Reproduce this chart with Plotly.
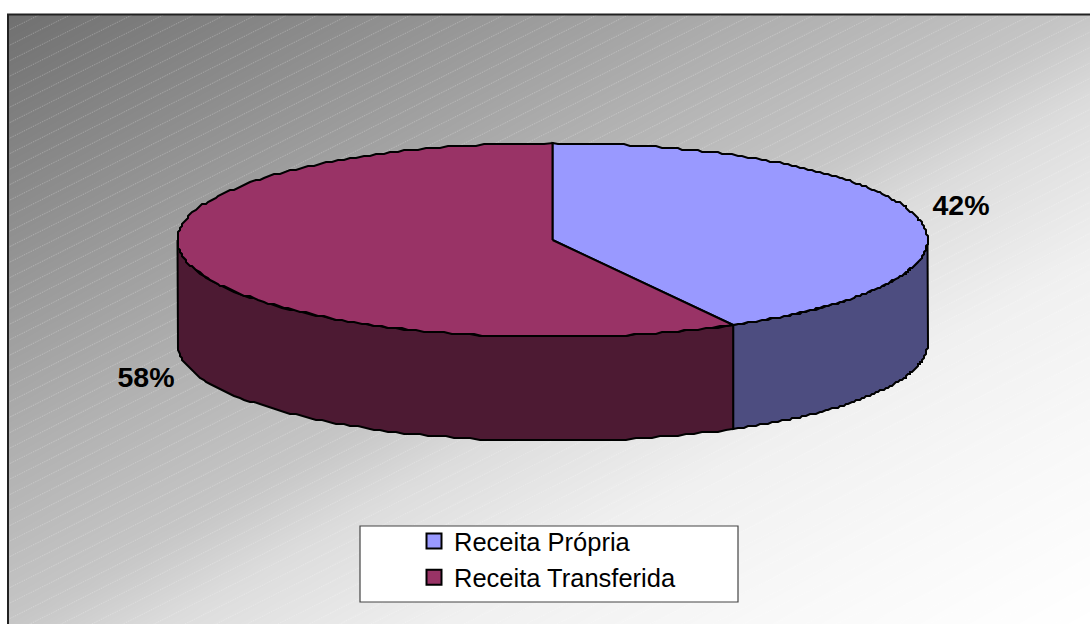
import numpy as np
import plotly.graph_objects as go

# ---- data
categories = ["Receita Própria", "Receita Transferida"]
shares = [42, 58]
top_colors = ["#9999FF", "#993366"]
wall_colors = ["#4D4D80", "#4D1A33"]

# ---- drawing constants (pixel space of the page)
W, H = 1090, 624
CX, CY, RX, RY, DEPTH = 552.5, 240.0, 375.0, 97.0, 104.0
LABEL_POS = [(961, 208), (146, 380)]
GREY_T = [0.0, 0.36, 0.50, 0.57, 0.70, 0.84, 1.0]
GREY_V = [112, 176, 198, 220, 240, 248, 255]
JAG = 2.0


def rim(a0, a1, dy=0.0, n=90):
    t = np.radians(np.linspace(a0, a1, n))
    x = CX + RX * np.sin(t)
    y = CY + RY * (-np.cos(t))
    # the source outline is a coarse integer polygon: keep that stepped look
    inner_x, inner_y = np.round(x[1:-1] / JAG) * JAG, np.round(y[1:-1] / JAG) * JAG
    x = np.r_[x[0], inner_x, x[-1]]
    y = np.r_[y[0], inner_y, y[-1]]
    return x, y + dy


fig = go.Figure()

# background gradient
gx = np.linspace(8, W, 56)
gy = np.linspace(15, H, 32)
gz = np.interp((gx[None, :] - 8) / (W - 8) * 0.5 + (gy[:, None] - 14) / (H - 14) * 0.5, GREY_T, GREY_V)
fig.add_trace(go.Heatmap(
    x=gx, y=gy, z=gz, zmin=0, zmax=255, zsmooth="best",
    colorscale=[[0, "#000000"], [1, "#FFFFFF"]], showscale=False, hoverinfo="skip",
))

# diagonal hatch
hx, hy = [], []
for c in np.arange(15, 1200, 15.5):
    hx += [8, W, None]
    hy += [c, c - 0.5 * (W - 8), None]
fig.add_trace(go.Scatter(
    x=hx, y=hy, mode="lines", hoverinfo="skip", showlegend=False,
    line=dict(color="rgba(255,255,255,0.30)", width=1, dash="1px,1px"),
))

edges = np.cumsum([0] + shares) / sum(shares) * 360

# walls: only the part of each slice facing the viewer
for i in range(len(shares)):
    a0, a1 = max(edges[i], 90), min(edges[i + 1], 270)
    if a1 <= a0:
        continue
    x1, y1 = rim(a0, a1)
    x2, y2 = rim(a1, a0, DEPTH)
    fig.add_trace(go.Scatter(
        x=np.r_[x1, x2, x1[0]], y=np.r_[y1, y2, y1[0]], mode="lines", fill="toself",
        fillcolor=wall_colors[i], line=dict(color="black", width=2),
        hoverinfo="skip", showlegend=False,
    ))

# top faces
for i in range(len(shares)):
    x1, y1 = rim(edges[i], edges[i + 1], n=180)
    fig.add_trace(go.Scatter(
        x=np.r_[CX, x1, CX], y=np.r_[CY, y1, CY], mode="lines", fill="toself",
        fillcolor=top_colors[i], line=dict(color="black", width=2),
        hoverinfo="skip", showlegend=False,
    ))

# percentage labels
for s, (lx, ly) in zip(shares, LABEL_POS):
    fig.add_trace(go.Scatter(
        x=[lx], y=[ly], mode="text", text=[f"{s}%"], hoverinfo="skip", showlegend=False,
        textfont=dict(family="Liberation Sans", size=28.5, color="black"),
        texttemplate="<b>%{text}</b>",
    ))

# legend entries
for i, c in enumerate(categories):
    fig.add_trace(go.Scatter(
        x=[None], y=[None], mode="markers", name=c, legendgroup=c,
        marker=dict(symbol="square", size=15, color=top_colors[i], line=dict(color="black", width=2)),
    ))

fig.update_layout(
    width=W, height=H, margin=dict(l=0, r=0, t=0, b=0, pad=0), autosize=False,
    paper_bgcolor="white", plot_bgcolor="white",
    xaxis=dict(range=[0, W], visible=False, fixedrange=True),
    yaxis=dict(range=[H, 0], visible=False, fixedrange=True),
    legend=dict(
        x=414 / W, y=1 - 518 / H, xanchor="left", yanchor="top",
        bgcolor="rgba(0,0,0,0)", borderwidth=0, tracegroupgap=0,
        font=dict(family="Liberation Sans", size=25.5, color="black"),
        itemclick=False, itemdoubleclick=False,
    ),
    shapes=[
        dict(type="rect", xref="x", yref="y", x0=0, x1=7, y0=0, y1=H,
             fillcolor="white", line=dict(width=0), layer="above"),
        dict(type="rect", xref="x", yref="y", x0=0, x1=W, y0=0, y1=14,
             fillcolor="white", line=dict(width=0), layer="above"),
        dict(type="rect", xref="x", yref="y", x0=360, x1=738, y0=526, y1=602,
             fillcolor="white", line=dict(color="#444444", width=1.2), layer="above"),
        dict(type="line", xref="x", yref="y", x0=8, x1=8, y0=14, y1=H,
             line=dict(color="#222222", width=2), layer="above"),
        dict(type="line", xref="x", yref="y", x0=7, x1=W, y0=14.5, y1=14.5,
             line=dict(color="#222222", width=2), layer="above"),
    ],
)
fig.write_html("out.html", config={"displayModeBar": False},
               post_script="document.body.style.margin='0';document.body.style.overflow='hidden';")
